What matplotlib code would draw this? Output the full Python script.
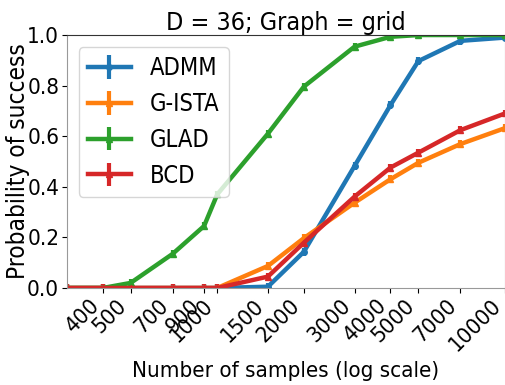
import numpy as np
import matplotlib
matplotlib.use("Agg")
import matplotlib.pyplot as plt
from matplotlib.ticker import NullLocator, FixedLocator, FixedFormatter

plt.rcParams["font.family"] = ["DejaVu Sans"]
plt.rcParams["font.stretch"] = "condensed"

n_samples = [300, 400, 500, 700, 900, 1000, 1500, 2000, 3000, 4000, 5000, 7000, 10000]
tick_vals = [400, 500, 700, 900, 1000, 1500, 2000, 3000, 4000, 5000, 7000, 10000]

admm  = [0, 0, 0, 0, 0, 0, 0.005, 0.143, 0.482, 0.723, 0.897, 0.977, 0.99]
gista = [0, 0, 0, 0, 0, 0, 0.087, 0.197, 0.337, 0.43, 0.495, 0.569, 0.632]
glad  = [0, 0, 0.02, 0.135, 0.245, 0.37, 0.61, 0.796, 0.954, 0.993, 1.0, 1.0, 1.0]
bcd   = [0, 0, 0, 0, 0, 0, 0.045, 0.179, 0.361, 0.476, 0.535, 0.624, 0.69]

series = [("ADMM", admm, "#1f77b4", "o"), ("G-ISTA", gista, "#ff7f0e", "^"),
          ("GLAD", glad, "#2ca02c", "^"), ("BCD", bcd, "#d62728", "^")]

fig = plt.figure(figsize=(5.06, 3.85), dpi=100)
ax = fig.add_axes([0.132, 0.252, 0.866, 0.657])

for name, vals, col, mk in series:
    ax.errorbar(n_samples, vals, yerr=0.015, color=col, lw=3.2, elinewidth=3,
                marker=mk, ms=4, label=name)

ax.set_xscale("log")
ax.set_xlim(300, 10000)
ax.set_ylim(0, 1.0)
ax.xaxis.set_major_locator(FixedLocator(tick_vals))
ax.xaxis.set_major_formatter(FixedFormatter([str(v) for v in tick_vals]))
ax.xaxis.set_minor_locator(NullLocator())
ax.set_yticks([0, 0.2, 0.4, 0.6, 0.8, 1.0])
ax.tick_params(labelsize=16, pad=2)
plt.setp(ax.get_xticklabels(), rotation=45, ha="right")
for s in ["left", "bottom", "right"]:
    ax.spines[s].set_color("#999999")
ax.spines["top"].set_color("#333333")

ax.set_title("D = 36; Graph = grid", fontsize=18, pad=-1)
ax.set_xlabel("Number of samples (log scale)", fontsize=16, labelpad=4)
ax.set_ylabel("Probability of success", fontsize=17.5, labelpad=-2)
ax.legend(loc="upper left", fontsize=17, handlelength=1.8,
          borderaxespad=0.5, labelspacing=0.5)

fig.savefig("out.png", dpi=100)
